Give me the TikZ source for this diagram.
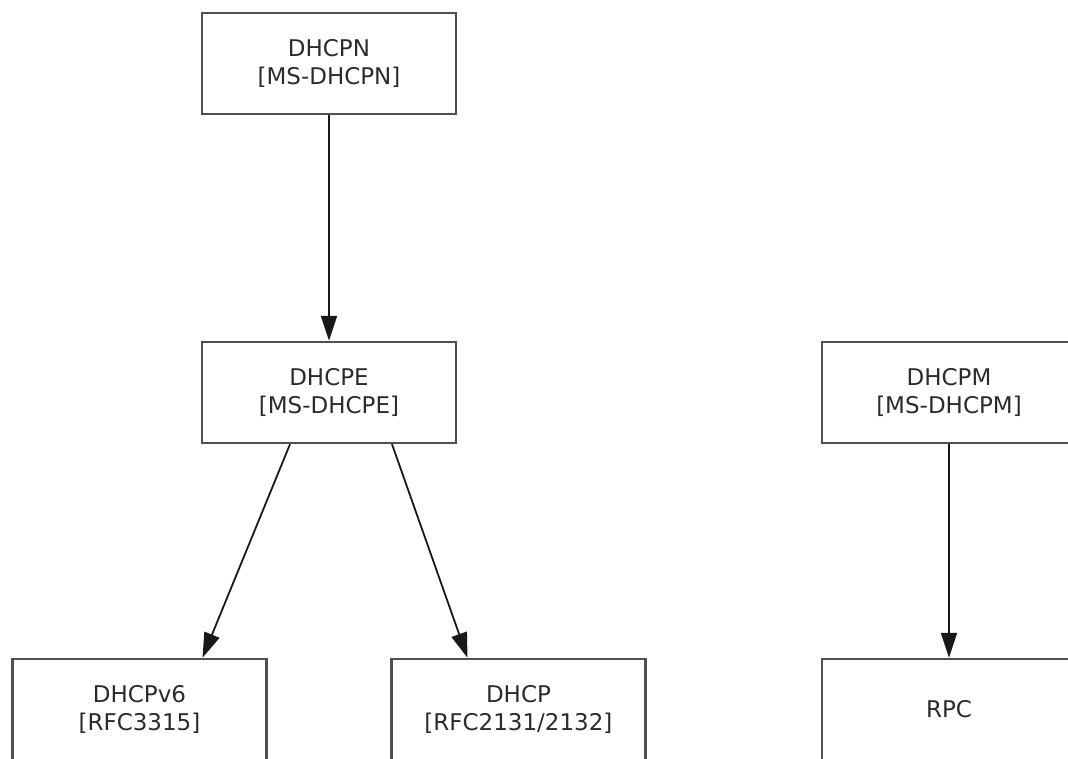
\documentclass[tikz,border=0pt]{standalone}
\usepackage{fontspec}
\setmainfont{DejaVu Sans}
\usetikzlibrary{arrows.meta}
\definecolor{boxline}{HTML}{505050}
\definecolor{boxtext}{HTML}{2b2b2b}
\begin{document}
\begin{tikzpicture}[x=1pt,y=1pt,
	protobox/.style={draw=boxline,line width=2.4pt,minimum width=254pt,minimum height=101pt,align=center,text=boxtext,font=\fontsize{23}{28}\selectfont},
	level 1/.style={level distance=329pt},
	level 2/.style={level distance=317pt,sibling distance=379pt},
	edge from parent/.style={draw=black!90,line width=1.8pt,-{Triangle[length=25pt,width=16pt]}}]
	\useasboundingbox (0,0) rectangle (1068,-758);
	\node[protobox] (dhcpn) at (329,-63.5) {DHCPN\\{}[MS-DHCPN]}
	child{node[protobox] (dhcpe) {DHCPE\\{}[MS-DHCPE]}
		child[edge from parent path={([xshift=-39pt]\tikzparentnode.south) -- ([xshift=63pt]\tikzchildnode.north)}]{node[protobox] (dhcpv6) {DHCPv6\\{}[RFC3315]}}
		child[edge from parent path={([xshift=63pt]\tikzparentnode.south) -- ([xshift=-51pt]\tikzchildnode.north)}]{node[protobox] (dhcp) {DHCP\\{}[RFC2131/2132]}}
	};
	\begin{scope}[level 1/.style={level distance=317pt}]
		\node[protobox] (dhcpm) at (949,-392.5) {DHCPM\\{}[MS-DHCPM]}
		child{node[protobox] (rpc) {RPC}};
	\end{scope}
\end{tikzpicture}
\end{document}
